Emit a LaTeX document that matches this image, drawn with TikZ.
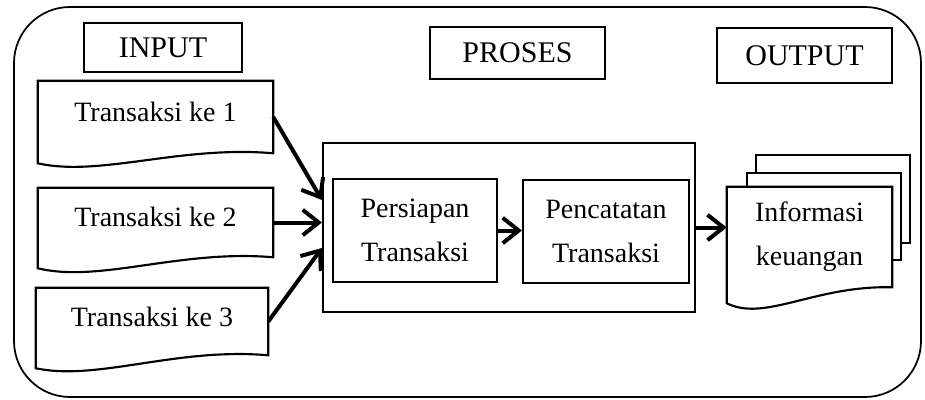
\documentclass[tikz,border=0pt]{standalone}
\usepackage{fontspec}
\setmainfont{Liberation Serif}
\usetikzlibrary{arrows.meta,calc}
\begin{document}
\begin{tikzpicture}[x=0.75pt,y=-0.75pt,
  box/.style={draw,line width=1.6pt,fill=white,inner sep=0pt},
  headbox/.style={box,font=\fontsize{22.5}{26}\selectfont},
  txt/.style={inner sep=0pt,font=\fontsize{21}{33}\selectfont,align=center},
  procbox/.style={box,font=\fontsize{21}{33}\selectfont,align=center},
  docanchor/.style={inner sep=0pt,draw=none},
  docline/.style={draw,line width=1.6pt,fill=white,line join=miter},
  frame/.style={draw,line width=1.3pt,rounded corners=42pt,inner sep=0pt},
  flow/.style={line width=3pt,-{Straight Barb[length=12pt,width=19pt,line width=3pt]}}]
\useasboundingbox (0,0) rectangle (925,400);
% outer frame
\node[frame,minimum width=680.25pt,minimum height=292.5pt] (frame) at (467.5,202) {};
% headings
\node[headbox,minimum width=118.5pt,minimum height=36.75pt] (hin) at (163,47.5) {INPUT};
\node[headbox,minimum width=131.25pt,minimum height=39pt] (hpr) at (517.5,53) {PROSES};
\node[headbox,minimum width=131.25pt,minimum height=41.25pt] (hout) at (804.5,55.5) {OUTPUT};
% input documents
\node[docanchor,minimum width=176.25pt,minimum height=54pt] (d1) at (155.5,117) {};
\path[docline] (d1.south east) -- (d1.north east) -- (d1.north west) -- ($(d1.south west)+(0,10)$)
  .. controls ($(d1.south west)+(62,24)$) and ($(d1.south west)+(142,-8)$) .. (d1.south east) -- cycle;
\node[txt] (t1) at ($(d1.center)+(0,-5)$) {Transaksi ke 1};

\node[docanchor,minimum width=176.25pt,minimum height=51.75pt] (d2) at (155.5,222.5) {};
\path[docline] (d2.south east) -- (d2.north east) -- (d2.north west) -- ($(d2.south west)+(0,11)$)
  .. controls ($(d2.south west)+(62,26)$) and ($(d2.south west)+(142,-8)$) .. (d2.south east) -- cycle;
\node[txt] (t2) at ($(d2.center)+(0,-6)$) {Transaksi ke 2};

\node[docanchor,minimum width=174pt,minimum height=50.25pt] (d3) at (152,321.5) {};
\path[docline] (d3.south east) -- (d3.north east) -- (d3.north west) -- ($(d3.south west)+(0,13)$)
  .. controls ($(d3.south west)+(62,26)$) and ($(d3.south west)+(140,-8)$) .. (d3.south east) -- cycle;
\node[txt] (t3) at ($(d3.center)+(0,-5)$) {Transaksi ke 3};
% process
\node[box,minimum width=279pt,minimum height=126.75pt] (proc) at (509,227.5) {};
\node[procbox,minimum width=123pt,minimum height=77.25pt] (prep) at (415,230.5) {Persiapan\\Transaksi};
\node[procbox,minimum width=124.5pt,minimum height=77.25pt] (rec) at (606,231.5) {Pencatatan\\Transaksi};
% output documents
\node[box,minimum width=115.5pt,minimum height=66pt] (o3) at (833,199) {};
\node[box,minimum width=115.5pt,minimum height=65.25pt] (o2) at (824,216.5) {};
\node[docanchor,minimum width=123.75pt,minimum height=75pt] (o1) at (809.5,237) {};
\path[docline] (o1.south east) -- (o1.north east) -- (o1.north west) -- ($(o1.south west)+(0,16)$)
  .. controls ($(o1.south west)+(38,35)$) and ($(o1.south west)+(88,-2)$) .. (o1.south east) -- cycle;
\node[txt] (to) at (o1.center) {Informasi\\keuangan};
% connectors
\draw[flow] (d1.east) -- ($(proc.west)+(0,-27.5)$);
\draw[flow] (d2.east) -- (d2.east -| proc.west);
\draw[flow] (d3.east) -- ($(proc.west)+(0,20.5)$);
\draw[flow] (prep.east) -- (prep.east -| rec.west);
\draw[flow] (proc.east) -- (proc.east -| o1.west);
\end{tikzpicture}
\end{document}
